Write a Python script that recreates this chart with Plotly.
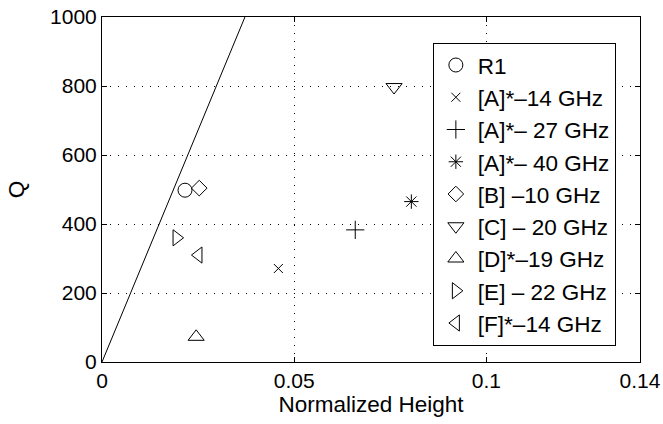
import plotly.graph_objects as go

# Data
names = ["R1", "[A]*–14 GHz", "[A]*– 27 GHz", "[A]*– 40 GHz", "[B] –10 GHz",
         "[C] – 20 GHz", "[D]*–19 GHz", "[E] – 22 GHz", "[F]*–14 GHz"]
heights = [0.0216, 0.0459, 0.0659, 0.0805, 0.0253, 0.0760, 0.0245, 0.0194, 0.0251]
qvals = [498, 271, 383, 465, 504, 797, 73, 360, 310]
symbols = ["circle-open", "x-thin-open", "cross-thin-open", "asterisk-open", "diamond-open",
           "triangle-down-open", "triangle-up-open", "triangle-right-open", "triangle-left-open"]
sizes = [14, 9, 13, 12, 12, 14, 14, 14, 14]

line_x = [0.0, 0.0372]
line_y = [0, 1000]

xticks = [0, 0.05, 0.1, 0.14]
xticktext = ["0", "0.05", "0.1", "0.14"]
yticks = [0, 200, 400, 600, 800, 1000]

fig = go.Figure()
fig.add_trace(go.Scatter(x=line_x, y=line_y, mode="lines",
                         line=dict(color="black", width=1), showlegend=False,
                         cliponaxis=True))
for i, (n, h, q, s, sz) in enumerate(zip(names, heights, qvals, symbols, sizes)):
    fig.add_trace(go.Scatter(x=[h], y=[q], mode="markers", name=n, legendgroup=f"g{i}",
                             marker=dict(symbol=s, size=sz, color="black",
                                         line=dict(color="black", width=1))))

axis_common = dict(showline=True, linecolor="black", linewidth=1, mirror="ticks",
                   ticks="inside", ticklen=5, tickcolor="black", automargin=False,
                   showgrid=True, gridcolor="black", gridwidth=1, griddash="1px,7px",
                   zeroline=False, tickfont=dict(size=21, color="black"))

fig.update_layout(
    width=663, height=424,
    margin=dict(l=102, r=23, t=17, b=62),
    paper_bgcolor="white", plot_bgcolor="white",
    font=dict(family="Liberation Sans, Arial, sans-serif", color="black", size=21),
    xaxis=dict(range=[0, 0.14], tickvals=xticks, ticktext=xticktext,
               title=dict(text="Normalized Height", font=dict(size=22.5, color="black"), standoff=3),
               **axis_common),
    yaxis=dict(range=[0, 1000], tickvals=yticks,
               title=dict(text="Q", font=dict(size=22.5, color="black"), standoff=19),
               **axis_common),
    legend=dict(x=0.615, y=0.925, xanchor="left", yanchor="top",
                bordercolor="black", borderwidth=1, bgcolor="white", itemwidth=34,
                font=dict(size=22.5, color="black"), tracegroupgap=0),
)

fig.write_html("out.html")
